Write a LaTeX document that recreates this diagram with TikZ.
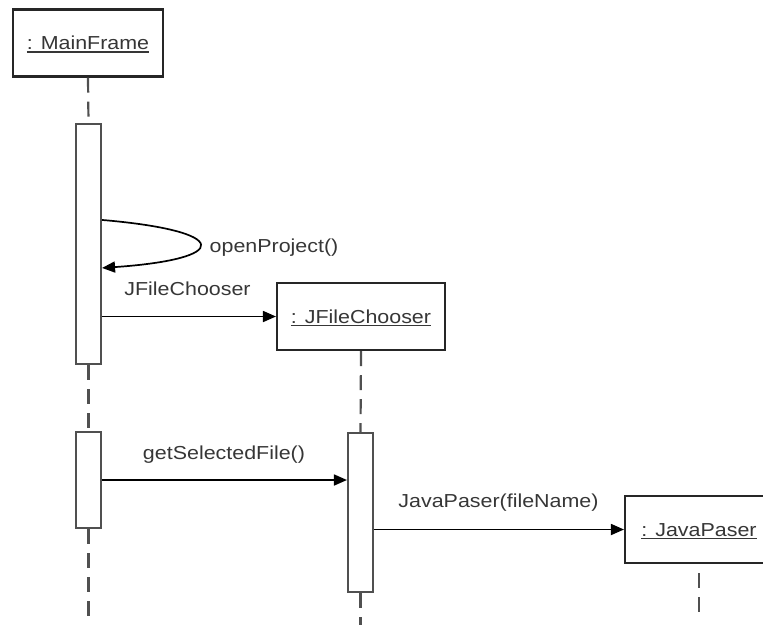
\documentclass[tikz,border=0pt]{standalone}
\usepackage{fontspec}
\setmainfont[FakeStretch=1.14]{Liberation Sans}
\usetikzlibrary{arrows.meta}
\definecolor{inkline}{HTML}{262626}
\definecolor{inktext}{HTML}{363636}
\definecolor{lifegray}{HTML}{505050}
% underlined object name (UML instance notation)
\newcommand\objname[1]{\setbox0\hbox{#1}\rlap{\color{inktext}\rule[-3pt]{\wd0}{1.4pt}}\box0}
\begin{document}
\begin{tikzpicture}[x=1pt,y=-1pt,
  every node/.style={font=\fontsize{18.8}{22}\selectfont, text=inktext},
  object/.style={draw=inkline, line width=2.1pt, fill=white, minimum width=#1,
    minimum height=67pt, inner sep=0pt, text height=13.5pt, text depth=0pt},
  activation/.style={draw=lifegray, line width=2.1pt, fill=white,
    minimum width=25pt, inner sep=0pt},
  lifeline/.style={draw=lifegray, line width=2.2pt, dash pattern=on 15pt off 9pt},
  msg/.style={draw=black, line width=1.7pt, -{Triangle[length=13pt,width=11pt]}},
  lbl/.style={anchor=base, inner sep=0pt}]
\useasboundingbox (0,0) rectangle (763,625);
\clip (0,0) rectangle (763,625);

% objects
\node[object=150pt] (mf)  at (88,43)     {\objname{: MainFrame}};
\node[object=168pt] (jfc) at (361,316.5) {\objname{: JFileChooser}};
\node[object=148pt] (jp)  at (699,529.5) {\objname{: JavaPaser}};

% activation bars
\node[activation, minimum height=240pt] (act1) at (88.5,244)   {};
\node[activation, minimum height=96pt]  (act2) at (88.5,480)   {};
\node[activation, minimum height=159pt] (act3) at (360.5,512.5) {};

% lifeline ends
\coordinate (mfend)  at (88.5,625);
\coordinate (jfcend) at (360.5,625);
\coordinate (jpend)  at (699,612);

% lifelines
\draw[lifeline] (mf.south) -- (act1.north);
\draw[lifeline] (act1.south) -- (act2.north);
\draw[lifeline] (act2.south) -- (mfend);
\draw[lifeline] (jfc.south) -- (act3.north);
\draw[lifeline] (act3.south) -- (jfcend);
\draw[lifeline] ([yshift=-9pt]jp.south) -- (jpend);

% messages
\draw[msg] ([yshift=-97pt]act1.north east) .. controls (232,231) and (232,259) .. ([yshift=-145pt]act1.north east);
\draw[msg] (act1.east |- jfc.west) -- (jfc.west);
\draw[msg] (act2.east) -- (act2.east -| act3.west);
\draw[msg] (act3.east |- jp.west) -- (jp.west);

% message labels
\node[lbl] (lopen) at (274,252)   {openProject()};
\node[lbl] (ljfc)  at (187.5,295) {JFileChooser};
\node[lbl] (lget)  at (224,459)   {getSelectedFile()};
\node[lbl] (ljava) at (498.5,507) {JavaPaser(fileName)};
\end{tikzpicture}
\end{document}
